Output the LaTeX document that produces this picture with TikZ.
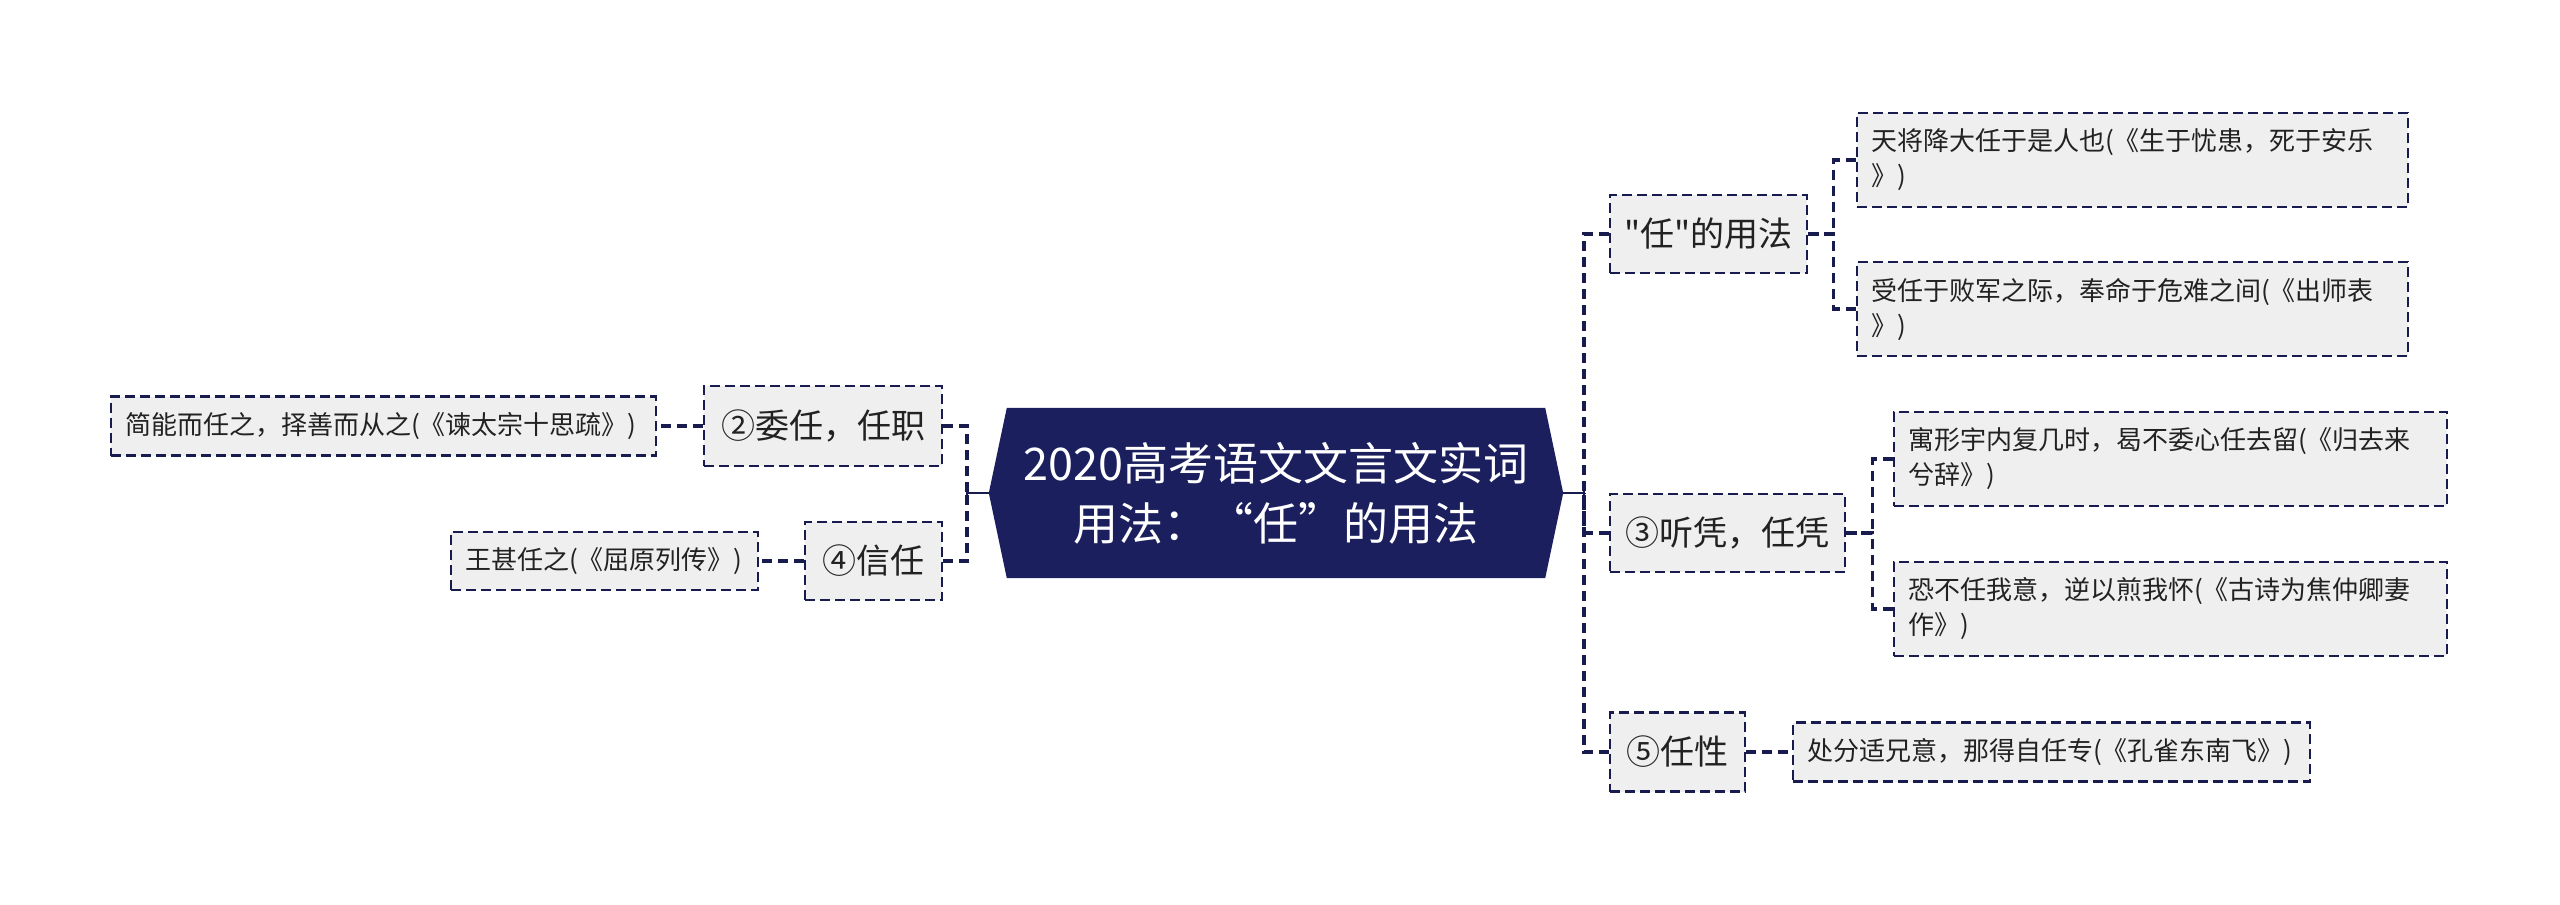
\documentclass[tikz,border=0pt]{standalone}
\usepackage{fontspec}
\newfontfamily\cjk{Noto Sans CJK SC}
\usetikzlibrary{calc}
\pgfdeclarelayer{background}
\pgfsetlayers{background,main}
\definecolor{navy}{HTML}{1B1F5E}
\definecolor{edge}{HTML}{171B4E}
\definecolor{boxgray}{HTML}{EFEFEF}
\definecolor{txt}{HTML}{222222}
\begin{document}
\begin{tikzpicture}[x=1pt,y=-1pt,
  every node/.style={font=\cjk, inner sep=0pt},
  hub/.style={minimum width=538pt, minimum height=170pt, text=white, align=center, font=\cjk\fontsize{45}{60}\selectfont},
  topic/.style={draw=edge, line width=2.8pt, dash pattern=on 10pt off 5pt, fill=boxgray, minimum height=78pt, font=\cjk\fontsize{34}{40}\selectfont, text=txt},
  leaf/.style={draw=edge, line width=2.6pt, dash pattern=on 10pt off 5pt, fill=boxgray, align=left, inner xsep=14pt, font=\cjk\fontsize{26}{35}\selectfont, text=txt},
  conn/.style={draw=edge, line width=3.2pt, dash pattern=on 10pt off 6pt},
  stub/.style={draw=edge, line width=2.6pt}]
\useasboundingbox (0,0) rectangle (2560,905);

\node[hub] (c) at (1276,493) {2020高考语文文言文实词\\用法：“任”的用法};
\coordinate (cE) at ([xshift=18pt]c.east);
\coordinate (cW) at ([xshift=-18pt]c.west);
\coordinate (sR) at (1584,493);
\coordinate (sL) at (967,493);

\begin{pgfonlayer}{background}
\fill[white] (0,0) rectangle (2560,905);
\fill[navy] (c.north west) -- (c.north east) -- (cE) -- (c.south east) -- (c.south west) -- (cW) -- cycle;
\end{pgfonlayer}

% right topics
\node[topic, minimum width=197pt] (t1) at (1708.5,234) {"任"的用法};
\node[topic, minimum width=235pt] (t3) at (1727.5,533) {③听凭，任凭};
\node[topic, minimum width=135pt, minimum height=79pt] (t5) at (1677.5,752) {⑤任性};
% left topics
\node[topic, minimum width=238pt, minimum height=80pt] (t2) at (823,426) {②委任，任职};
\node[topic, minimum width=137pt] (t4) at (873.5,561) {④信任};

% leaves
\node[leaf, text width=523pt, minimum height=94pt] (l1a) at (2132.5,160) {天将降大任于是人也(《生于忧患，死于安乐\\》)};
\node[leaf, text width=523pt, minimum height=94pt] (l1b) at (2132.5,309) {受任于败军之际，奉命于危难之间(《出师表\\》)};
\node[leaf, text width=525pt, minimum height=94pt] (l3a) at (2170.5,459) {\hbox to 525pt{寓形宇内复几时，曷不委心任去留(《归去来\hss}\\兮辞》)};
\node[leaf, text width=525pt, minimum height=94pt] (l3b) at (2170.5,609) {恐不任我意，逆以煎我怀(《古诗为焦仲卿妻\\作》)};
\node[leaf, text width=489pt, minimum height=59pt] (l5a) at (2051.5,752) {处分适兄意，那得自任专(《孔雀东南飞》)};
\node[leaf, text width=517pt, minimum height=59pt] (l2a) at (383.5,426) {简能而任之，择善而从之(《谏太宗十思疏》)};
\node[leaf, text width=279pt, minimum height=58pt] (l4a) at (604.5,561) {王甚任之(《屈原列传》)};

% connectors
\draw[conn] (t1.west) -| (sR);
\draw[conn] (t3.west) -| (sR);
\draw[conn] (t5.west) -| (sR);
\draw[conn] (t2.east) -| (sL);
\draw[conn] (t4.east) -| (sL);
\draw[stub] (cE) -- (sR);
\draw[stub] (cW) -- (sL);
\draw[stub] ([yshift=-6pt]sR) -- ([yshift=6pt]sR);
\draw[stub] ([yshift=-6pt]sL) -- ([yshift=6pt]sL);

\draw[conn] (l1a.west) -| ([xshift=25pt]t1.east) -- (t1.east);
\draw[conn] (l1b.west) -| ([xshift=25pt]t1.east) -- (t1.east);
\draw[conn] (l3a.west) -| ([xshift=26pt]t3.east) -- (t3.east);
\draw[conn] (l3b.west) -| ([xshift=26pt]t3.east) -- (t3.east);
\draw[conn] (t5.east) -- (l5a.west);
\draw[conn] (t2.west) -- (l2a.east);
\draw[conn] (t4.west) -- (l4a.east);
\end{tikzpicture}
\end{document}
